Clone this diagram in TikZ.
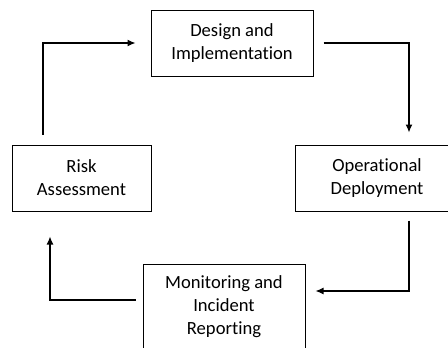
\documentclass[tikz,border=0pt]{standalone}
\usepackage{fontspec}
\setmainfont{Carlito}[Ligatures=NoCommon]
\usetikzlibrary{arrows.meta}
\begin{document}
\begin{tikzpicture}[x=1pt,y=-1pt,
  box/.style={draw=black,line width=1pt,align=center,inner sep=0pt,
    font=\fontsize{18.6}{23}\selectfont},
  conn/.style={line width=1.2pt,-{Latex[length=8pt,width=7pt]}}]
\useasboundingbox (0,0) rectangle (448,348);
\clip (0,0) rectangle (448,348);
\fill[white] (0,0) rectangle (448,348);
\node[box,minimum width=162pt,minimum height=66pt] (d) at (232,43) {Design and\\Implementation};
\node[box,minimum width=139pt,minimum height=66pt] (r) at (81.5,178) {Risk\\Assessment};
\node[box,minimum width=164pt,minimum height=66pt] (o) at (377,178) {Operational\\Deployment};
\node[box,minimum width=162pt,minimum height=86pt] (m) at (224,307) {Monitoring and\\Incident\\Reporting};
\draw[conn] ([xshift=31.5pt,yshift=10pt]r.north west) |- ([xshift=-15pt]d.west);
\draw[conn] ([xshift=10pt]d.east) -| ([xshift=32pt,yshift=12pt]o.north);
\draw[conn] ([xshift=32pt,yshift=-9pt]o.south) |- ([xshift=10pt,yshift=16pt]m.east);
\draw[conn] ([xshift=-7pt,yshift=7pt]m.west) -| ([xshift=-31.5pt,yshift=-25pt]r.south);
\end{tikzpicture}
\end{document}
